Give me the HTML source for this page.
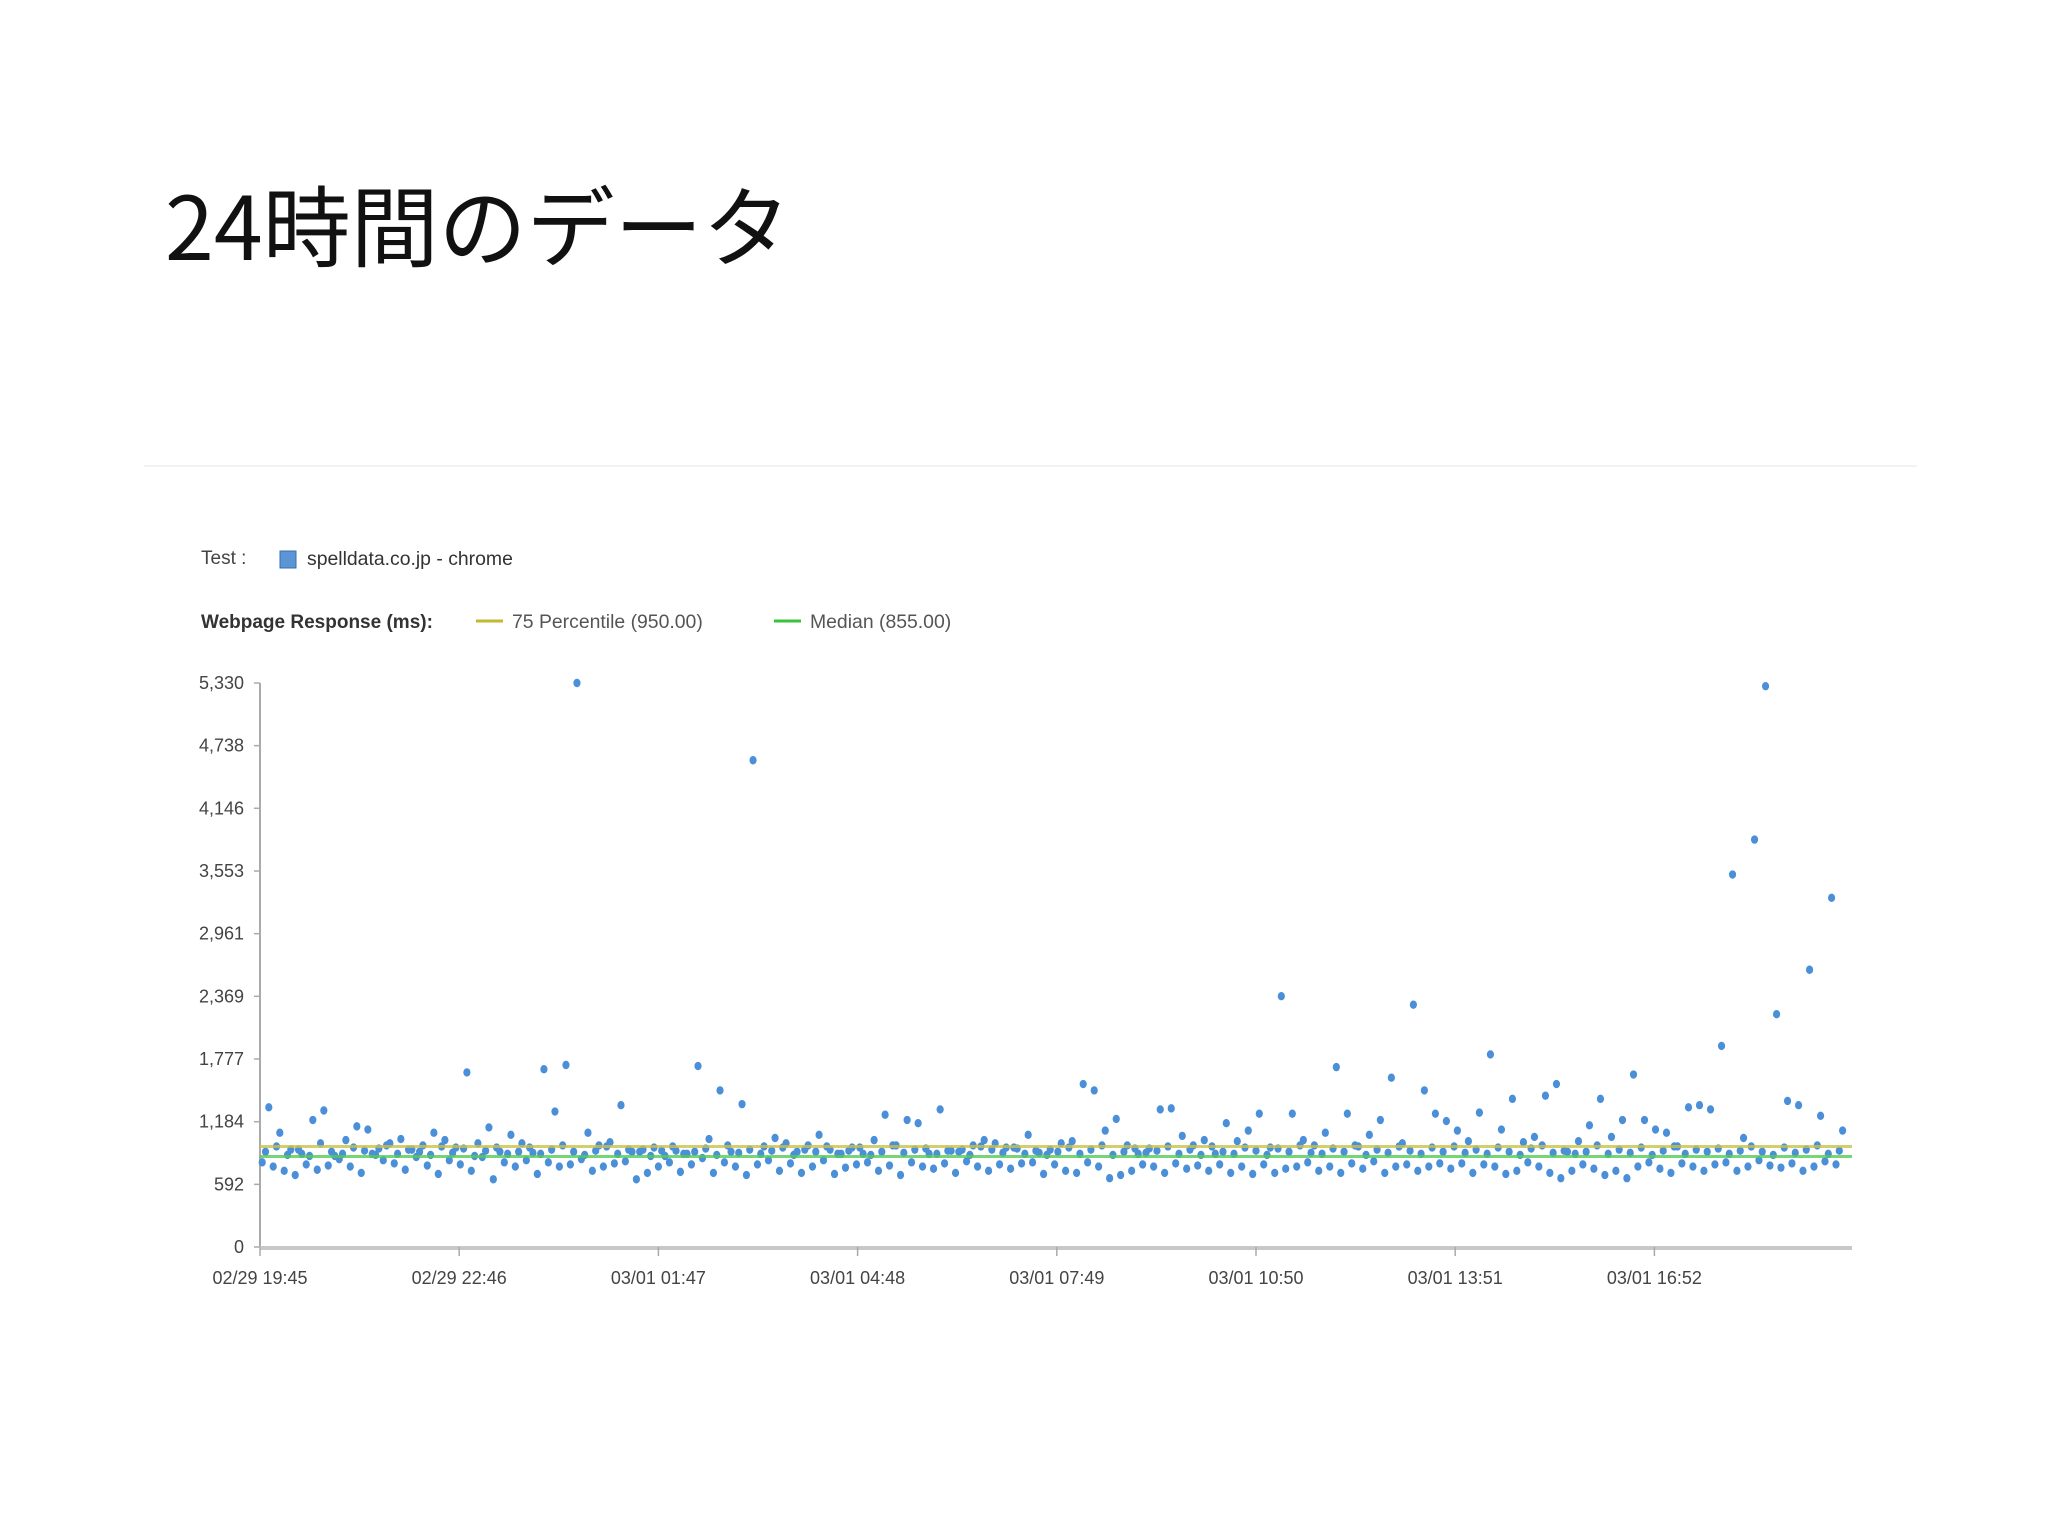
<!DOCTYPE html>
<html><head><meta charset="utf-8"><style>
html,body{margin:0;padding:0;background:#fff;width:2048px;height:1536px;overflow:hidden}
svg{display:block}
text{font-family:"Liberation Sans","Noto Sans CJK JP",sans-serif}
</style></head><body>
<svg id="chart" width="2048" height="1536" viewBox="0 0 2048 1536" xmlns="http://www.w3.org/2000/svg">
<text x="165" y="260" font-size="88" fill="#111" style="font-family:'Noto Sans CJK JP','Liberation Sans',sans-serif">24時間のデータ</text>
<line x1="144" y1="466" x2="1917" y2="466" stroke="#f2f2f2" stroke-width="2"/>
<text x="201" y="564" font-size="19" fill="#444">Test :</text>
<rect x="280" y="551" width="16" height="17" fill="#5b95d6" stroke="#3a6fa8" stroke-width="1"/>
<text x="307" y="565" font-size="19.4" fill="#333">spelldata.co.jp - chrome</text>
<text x="201" y="628" font-size="19" font-weight="bold" fill="#333">Webpage Response (ms):</text>
<line x1="476" y1="621" x2="503" y2="621" stroke="#c2b831" stroke-width="3"/>
<text x="512" y="628" font-size="19.4" fill="#555">75 Percentile (950.00)</text>
<line x1="774" y1="621" x2="801" y2="621" stroke="#3cc13c" stroke-width="3"/>
<text x="810" y="628" font-size="19.4" fill="#555">Median (855.00)</text>
<g id="axes"></g>
<g id="dots"></g>
<g id="refs"></g>
</svg>
<script>
const yTicks=[0,592,1184,1777,2369,2961,3553,4146,4738,5330];
const yTickLabels=["0","592","1,184","1,777","2,369","2,961","3,553","4,146","4,738","5,330"];
const xTickLabels=["02/29 19:45","02/29 22:46","03/01 01:47","03/01 04:48","03/01 07:49","03/01 10:50","03/01 13:51","03/01 16:52"];
const xTickMinutes=[0,181,362,543,724,905,1086,1267];
const p75=950;
const median=855;
const seriesA=[1320,1080,920,880,1200,1290,860,1010,1140,1110,930,980,
1020,920,960,1080,1010,940,1650,980,1130,900,1060,980,
890,1680,1280,1720,5330,1080,960,990,1340,900,920,940,
860,910,880,1710,1020,1480,900,1350,4600,950,1030,980,
900,960,1060,920,880,940,880,1010,1250,960,1200,1170,
880,1300,910,920,960,1010,980,940,930,1060,890,920,
980,1000,1540,1480,1100,1210,960,880,930,1300,1310,1050,
960,1010,880,1170,1000,1100,1260,940,2370,1260,1010,960,
1080,1700,1260,950,1060,1200,1600,980,2290,1480,1260,1190,
1100,1000,1270,1820,1110,1400,990,1040,1430,1540,900,1000,
1150,1400,1040,1200,1630,1200,1110,1080,950,1320,1340,1300,
1900,3520,1030,3850,5300,2200,1380,1340,2620,1240,3300,1100];
const seriesB=[800,760,720,680,780,730,770,830,760,700,880,820,
790,730,850,770,690,820,780,720,850,640,800,760,
820,690,800,760,780,830,720,760,790,810,640,700,
760,800,710,780,840,700,800,760,680,780,820,720,
790,700,760,820,690,750,780,800,720,770,680,800,
760,740,790,700,810,760,720,780,740,790,800,690,
780,720,700,800,760,650,680,720,780,760,700,790,
740,770,720,780,700,760,690,780,700,740,760,800,
720,760,700,790,740,810,700,760,780,720,760,790,
740,790,700,780,760,690,720,800,760,700,650,720,
780,740,680,720,650,760,800,740,700,790,760,720,
780,800,720,760,820,770,750,790,720,760,810,780];
const seriesC=[900,950,870,920,860,980,900,880,940,910,870,960,
880,920,900,870,950,890,930,860,910,940,880,900,
940,880,920,960,900,870,910,950,880,920,900,860,
910,950,880,900,930,870,960,890,920,880,910,940,
870,920,900,950,880,910,940,870,900,960,890,920,
930,880,910,900,870,950,920,890,940,880,910,870,
900,940,880,920,960,870,900,930,890,910,950,880,
920,870,950,900,880,940,910,870,930,900,960,890,
880,930,900,960,870,920,890,950,910,880,940,900,
950,890,920,880,940,900,870,930,960,890,910,880,
900,960,880,920,890,940,870,910,950,880,920,900,
930,880,910,950,900,870,940,890,920,960,880,910];
const NS="http://www.w3.org/2000/svg";
const X0=260,X1=1852,Y0=1247,Y1=683;
const pxPerMin=199.2/181;
function xScale(m){return X0+m*pxPerMin;}
function yScale(v){return Y0-(v/5330)*(Y0-Y1);}
function mk(tag,attrs,parent){const e=document.createElementNS(NS,tag);for(const k in attrs)e.setAttribute(k,attrs[k]);parent.appendChild(e);return e;}
const axes=document.getElementById('axes');
let el=mk('line',{x1:X0,y1:Y1,x2:X0,y2:Y0,stroke:'#aaa','stroke-width':2},axes);


el=mk('line',{x1:X0,y1:Y0+1,x2:X1,y2:Y0+1,stroke:'#c8c8c8','stroke-width':4},axes);


yTicks.forEach((v,i)=>{
  const y=yScale(v);
  let t=mk('line',{x1:X0-6,y1:y,x2:X0,y2:y,stroke:'#aaa','stroke-width':1.5},axes);
  
  
  let l=mk('text',{x:X0-16,y:y+6,'font-size':18,fill:'#444','text-anchor':'end'},axes);
  l.textContent=yTickLabels[i];
  
  
});
xTickMinutes.forEach((m,i)=>{
  const x=xScale(m);
  let t=mk('line',{x1:x,y1:Y0,x2:x,y2:Y0+9,stroke:'#aaa','stroke-width':1.5},axes);
  
  
  let l=mk('text',{x:x,y:1284,'font-size':18,fill:'#444','text-anchor':'middle'},axes);
  l.textContent=xTickLabels[i];
  
  
});
const dots=document.getElementById('dots');
function plot(arr,off){
  arr.forEach((v,i)=>{
    const c=mk('ellipse',{cx:xScale(i*10+off),cy:yScale(v),rx:3.6,ry:4.2,fill:'#4a8fd8'},dots);
    
    
  });
}
plot(seriesB,2);plot(seriesC,5);plot(seriesA,8);
const refs=document.getElementById('refs');
el=mk('line',{x1:X0,y1:yScale(p75),x2:X1,y2:yScale(p75),stroke:'#c9c24a','stroke-width':3,opacity:0.8},refs);


el=mk('line',{x1:X0,y1:yScale(median),x2:X1,y2:yScale(median),stroke:'#55cc55','stroke-width':3,opacity:0.8},refs);


</script>
</body></html>
